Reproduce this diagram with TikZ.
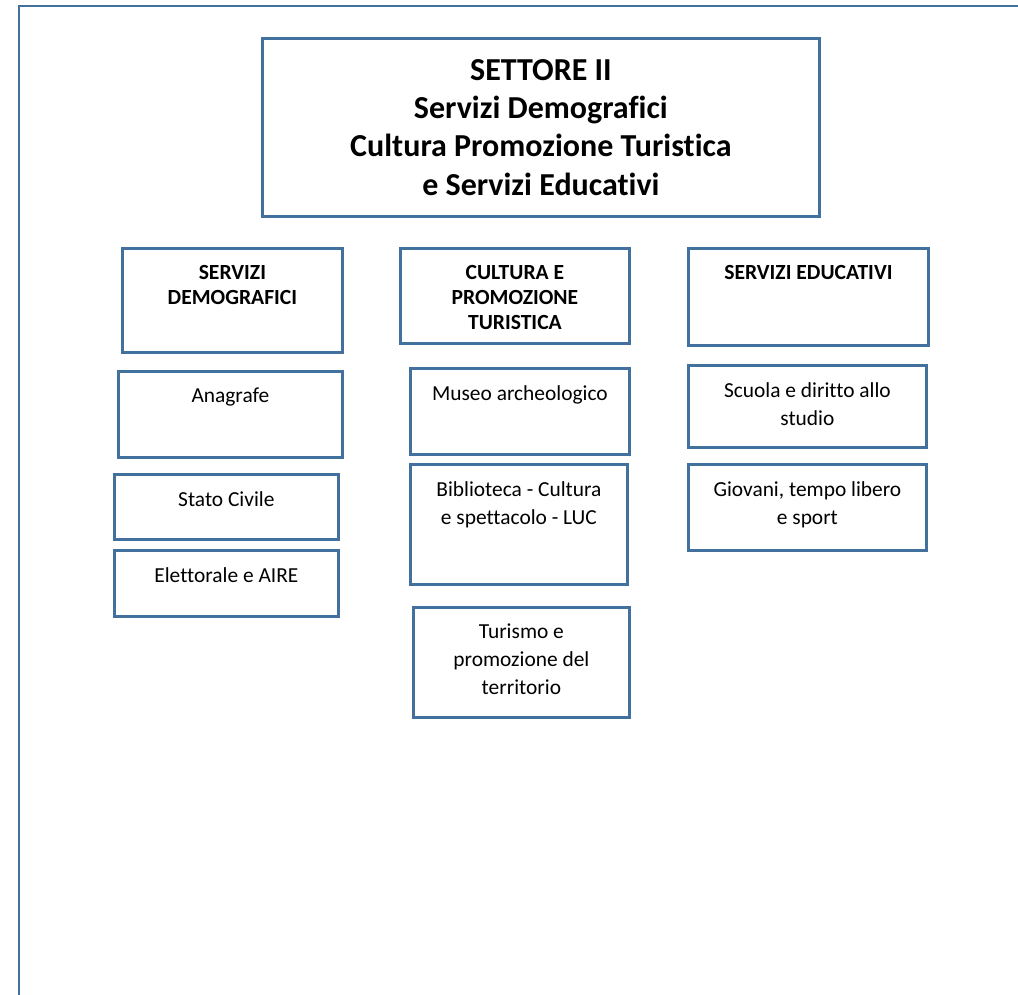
\documentclass[tikz,border=0pt]{standalone}
\usepackage{fontspec}
\setmainfont[Ligatures=NoCommon]{Carlito}
\definecolor{boxblue}{HTML}{41719C}
\tikzset{
	ufficio/.style={rectangle,draw=boxblue,line width=2.8pt,anchor=north west,inner sep=0pt},
	testo/.style={anchor=north,align=center,inner sep=0pt,font=\fontsize{21.4}{28}\selectfont},
	testocapo/.style={testo,font=\bfseries\fontsize{21.6}{25}\selectfont},
	titolo/.style={testo,font=\bfseries\fontsize{32}{38.3}\selectfont},
}
\begin{document}
\begin{tikzpicture}[x=1pt,y=-1pt]
		\useasboundingbox (0,0) rectangle (1018,995);
		\draw[boxblue,line width=2.8pt] (19,995) -- (19,6) -- (1018,6);
		% settore
		\node[ufficio,minimum width=557pt,minimum height=178pt,label={[titolo,yshift=-22pt]north:{SETTORE II\\Servizi Demografici\\Cultura Promozione Turistica\\e Servizi Educativi}}] (settore) at (261,37) {};
		% servizi demografici
		\node[ufficio,minimum width=220pt,minimum height=104pt,label={[testocapo,yshift=-18pt]north:{SERVIZI\\DEMOGRAFICI}}] (demo) at (121,247) {};
		\node[ufficio,minimum width=224pt,minimum height=86pt,label={[testo,yshift=-18pt]north:{Anagrafe}}] (anagrafe) at (117,370) {};
		\node[ufficio,minimum width=224pt,minimum height=65pt,label={[testo,yshift=-18pt]north:{Stato Civile}}] (civile) at (113,473) {};
		\node[ufficio,minimum width=224pt,minimum height=66pt,label={[testo,yshift=-18pt]north:{Elettorale e AIRE}}] (elettorale) at (113,549) {};
		% cultura e promozione turistica
		\node[ufficio,minimum width=229pt,minimum height=95pt,label={[testocapo,yshift=-18pt]north:{CULTURA E\\PROMOZIONE\\TURISTICA}}] (cultura) at (399,247) {};
		\node[ufficio,minimum width=219pt,minimum height=86pt,label={[testo,yshift=-18pt]north:{Museo archeologico}}] (museo) at (409,367) {};
		\node[ufficio,minimum width=217pt,minimum height=120pt,label={[testo,yshift=-18pt]north:{Biblioteca - Cultura\\e spettacolo - LUC}}] (biblioteca) at (409,463) {};
		\node[ufficio,minimum width=216pt,minimum height=110pt,label={[testo,yshift=-18pt]north:{Turismo e\\promozione del\\territorio}}] (turismo) at (412,606) {};
		% servizi educativi
		\node[ufficio,minimum width=240pt,minimum height=97pt,label={[testocapo,yshift=-18pt]north:{SERVIZI EDUCATIVI}}] (educativi) at (687,247) {};
		\node[ufficio,minimum width=238pt,minimum height=82pt,label={[testo,yshift=-18pt]north:{Scuola e diritto allo\\studio}}] (scuola) at (687,364) {};
		\node[ufficio,minimum width=238pt,minimum height=86pt,label={[testo,yshift=-18pt]north:{Giovani, tempo libero\\e sport}}] (giovani) at (687,463) {};
	\end{tikzpicture}
\end{document}
